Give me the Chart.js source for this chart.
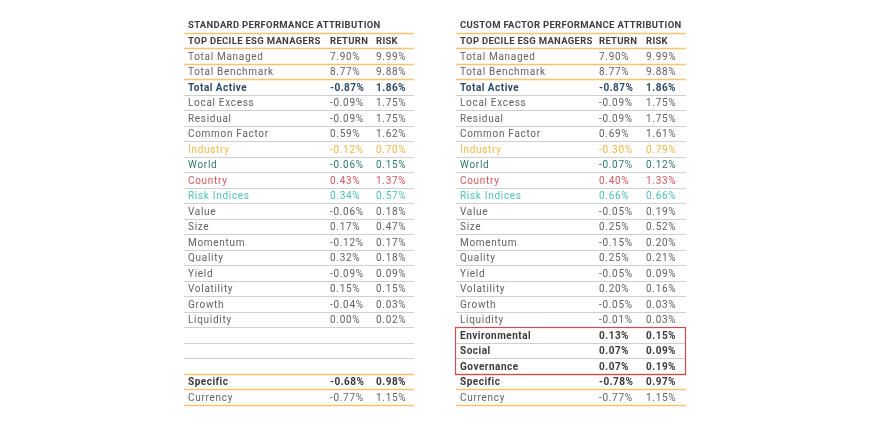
<!DOCTYPE html>
<html>
<head>
<meta charset="utf-8">
<script src="https://cdn.jsdelivr.net/npm/chart.js@4.4.1/dist/chart.umd.min.js"></script>
<style>
  html, body { margin: 0; padding: 0; background: #fff; }
  #wrap { width: 870px; height: 430px; }
</style>
</head>
<body>
<div id="wrap"><canvas id="chart" width="870" height="430"></canvas></div>
<script>
// table text
const titles = ["STANDARD PERFORMANCE ATTRIBUTION", "CUSTOM FACTOR PERFORMANCE ATTRIBUTION"];
const headers = ["TOP DECILE ESG MANAGERS", "RETURN", "RISK"];

const rowLabels = [
  "Total Managed", "Total Benchmark", "Total Active", "Local Excess", "Residual",
  "Common Factor", "Industry", "World", "Country", "Risk Indices", "Value", "Size",
  "Momentum", "Quality", "Yield", "Volatility", "Growth", "Liquidity",
  "Environmental", "Social", "Governance", "Specific", "Currency"
];
// the standard table has no ESG rows
const stdLabels = rowLabels.map((l) => (["Environmental", "Social", "Governance"].includes(l) ? "" : l));

const stdReturn = [7.90, 8.77, -0.87, -0.09, -0.09, 0.59, -0.12, -0.06, 0.43, 0.34, -0.06, 0.17,
  -0.12, 0.32, -0.09, 0.15, -0.04, 0.00, null, null, null, -0.68, -0.77];
const stdRisk = [9.99, 9.88, 1.86, 1.75, 1.75, 1.62, 0.70, 0.15, 1.37, 0.57, 0.18, 0.47,
  0.17, 0.18, 0.09, 0.15, 0.03, 0.02, null, null, null, 0.98, 1.15];
const customReturn = [7.90, 8.77, -0.87, -0.09, -0.09, 0.69, -0.30, -0.07, 0.40, 0.66, -0.05, 0.25,
  -0.15, 0.25, -0.05, 0.20, -0.05, -0.01, 0.13, 0.07, 0.07, -0.78, -0.77];
const customRisk = [9.99, 9.88, 1.86, 1.75, 1.75, 1.61, 0.79, 0.12, 1.33, 0.66, 0.19, 0.52,
  0.20, 0.21, 0.09, 0.16, 0.03, 0.03, 0.15, 0.09, 0.19, 0.97, 1.15];

// layout / styling
const COLS = [
  { left: 184, right: 414, label: 188, ret: 330, risk: 376 },
  { left: 456, right: 686, label: 460, ret: 599, risk: 646 },
];
const TOTAL_ROWS = rowLabels.length + 2; // title + header + rows
const rowStyle = {
  "Total Active": { color: "#2d4a68", bold: true },
  "Industry": { color: "#f0b545" },
  "World": { color: "#2b7a6c" },
  "Country": { color: "#d4555b" },
  "Risk Indices": { color: "#4cc0be" },
  "Environmental": { color: "#3a3a3a", bold: true },
  "Social": { color: "#3a3a3a", bold: true },
  "Governance": { color: "#3a3a3a", bold: true },
  "Specific": { color: "#3a3a3a", bold: true },
};
const TEXT = "#616161";
const ORANGE = "#f6c46e";
const GRAY = "#cfcfcf";
const RED = "#cf4a50";
const orangeAfter = [0, 1, 2, 3, 22, 23, 24];
const FONT = "Roboto";
const TEXT_DY = 1.2;

const fmt = (v) => v.toFixed(2) + "%";

function cellSet(values, table, col, texts) {
  const pts = [];
  const txt = [];
  values.forEach((v, i) => {
    const t = texts ? texts[i] : (v === null ? null : fmt(v));
    if (t === null || t === "") return;
    pts.push({ x: COLS[table][col], y: i + 2 });
    txt.push({ t: t, label: rowLabels[i] });
  });
  return { data: pts, texts: txt, pointRadius: 0, pointHoverRadius: 0, showLine: false };
}

const datasets = [
  cellSet(stdLabels, 0, "label", stdLabels),
  cellSet(stdReturn, 0, "ret"),
  cellSet(stdRisk, 0, "risk"),
  cellSet(rowLabels, 1, "label", rowLabels),
  cellSet(customReturn, 1, "ret"),
  cellSet(customRisk, 1, "risk"),
];

function setFont(ctx, bold, size, spacing) {
  ctx.font = (bold ? "bold " : "") + size + "px " + FONT;
  try { ctx.letterSpacing = spacing + "px"; } catch (e) {}
}

const tablePlugin = {
  id: "tablePlugin",
  beforeDatasetsDraw(chart) {
    const { ctx, scales: { x, y } } = chart;
    ctx.save();
    for (let r = 0; r < TOTAL_ROWS; r++) {
      const yy = Math.round(y.getPixelForValue(r + 0.5)) + 0.5;
      const orange = orangeAfter.includes(r);
      ctx.strokeStyle = orange ? ORANGE : GRAY;
      ctx.lineWidth = orange ? 1.5 : 1;
      COLS.forEach((c) => {
        ctx.beginPath();
        ctx.moveTo(x.getPixelForValue(c.left), yy);
        ctx.lineTo(x.getPixelForValue(c.right), yy);
        ctx.stroke();
      });
    }
    ctx.restore();
  },
  afterDatasetsDraw(chart) {
    const { ctx, scales: { x, y } } = chart;
    ctx.save();
    ctx.textBaseline = "middle";
    ctx.textAlign = "left";

    // titles and headers
    COLS.forEach((c, ti) => {
      ctx.fillStyle = "#3d3d3d";
      setFont(ctx, true, 9.5, 0.3);
      ctx.fillText(titles[ti], x.getPixelForValue(c.label), y.getPixelForValue(0) + TEXT_DY);
      ctx.fillText(headers[0], x.getPixelForValue(c.label), y.getPixelForValue(1) + TEXT_DY);
      ctx.fillText(headers[1], x.getPixelForValue(c.ret), y.getPixelForValue(1) + TEXT_DY);
      ctx.fillText(headers[2], x.getPixelForValue(c.risk), y.getPixelForValue(1) + TEXT_DY);
    });

    // cells
    chart.data.datasets.forEach((ds, di) => {
      const meta = chart.getDatasetMeta(di);
      meta.data.forEach((pt, i) => {
        const cell = ds.texts[i];
        const st = rowStyle[cell.label] || {};
        ctx.fillStyle = st.color || TEXT;
        setFont(ctx, !!st.bold, 10, st.bold ? 0.5 : 0.7);
        ctx.fillText(cell.t, pt.x, pt.y + TEXT_DY);
      });
    });

    // red box around ESG rows of custom table
    const c = COLS[1];
    const top = Math.round(y.getPixelForValue(rowLabels.indexOf("Environmental") + 2 - 0.5)) + 0.5;
    const bot = Math.round(y.getPixelForValue(rowLabels.indexOf("Governance") + 2 + 0.5)) + 0.5;
    ctx.strokeStyle = RED;
    ctx.lineWidth = 1.2;
    ctx.strokeRect(x.getPixelForValue(c.left) - 0.5, top, x.getPixelForValue(c.right) - x.getPixelForValue(c.left), bot - top);
    ctx.restore();
  },
};

new Chart(document.getElementById("chart"), {
  type: "scatter",
  data: { datasets: datasets },
  options: {
    responsive: false,
    animation: false,
    events: [],
    layout: { padding: { left: 0, right: 0, top: 17, bottom: 25 } },
    plugins: { legend: { display: false }, tooltip: { enabled: false } },
    scales: {
      x: { type: "linear", display: false, min: 0, max: 870 },
      y: { type: "linear", display: false, reverse: true, min: -0.5, max: TOTAL_ROWS - 0.5 },
    },
  },
  plugins: [tablePlugin],
});
</script>
</body>
</html>
